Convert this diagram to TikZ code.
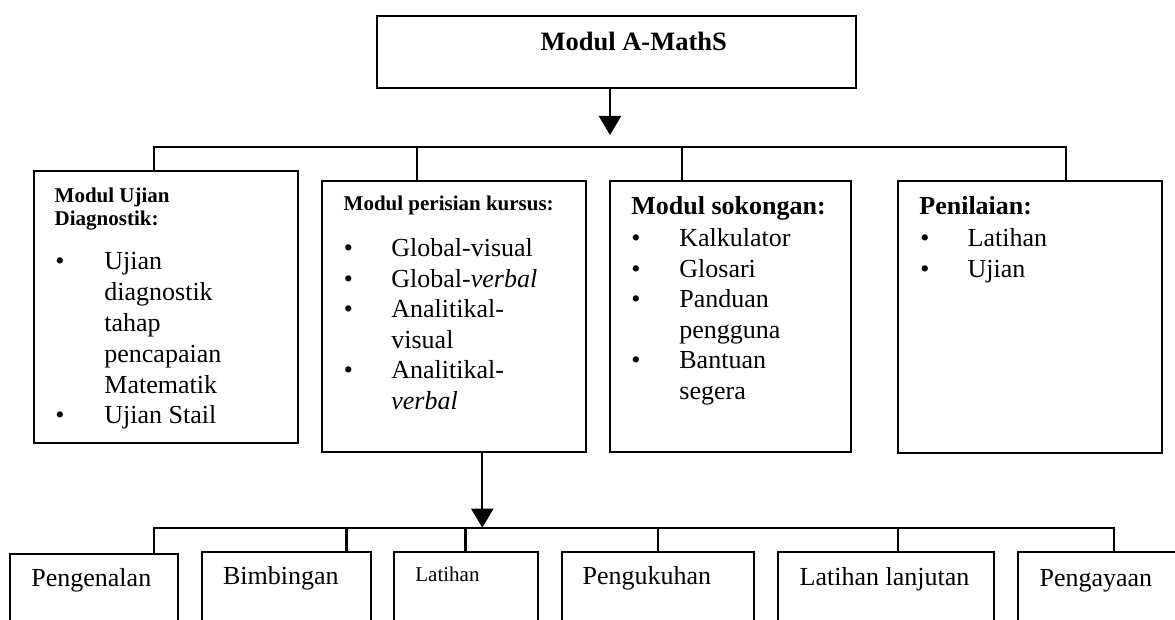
\documentclass[tikz,border=0pt]{standalone}
\usepackage{fontspec}
\setmainfont{Liberation Serif}
\usetikzlibrary{arrows.meta,fit}
\tikzset{
  box/.style={draw, line width=1.1pt, inner sep=0pt, rectangle},
  conn/.style={line width=1.1pt},
  arr/.style={line width=1.1pt, -{Triangle[width=11pt,length=9.5pt]}},
  txt/.style={anchor=base west, inner sep=0pt, font=\fontsize{13}{15}\selectfont},
  stxt/.style={anchor=base west, inner sep=0pt, font=\fontsize{10.5}{12}\selectfont},
  hd/.style={anchor=base west, inner sep=0pt, font=\fontsize{10.5}{12}\selectfont\bfseries},
  hdl/.style={anchor=base west, inner sep=0pt, font=\fontsize{13}{15}\selectfont\bfseries},
}
\begin{document}
\begin{tikzpicture}[x=0.5pt,y=-0.5pt]
\path[use as bounding box] (0,0) rectangle (1175,620);
\clip (0,0) rectangle (1175,620);

% top box
\node[box, fit={(377,16) (856,87.7)}] (top) {};
\node[anchor=base, inner sep=0pt, font=\fontsize{13.25}{15}\selectfont\bfseries] (title) at (633.7,50.7) {Modul A-MathS};

% second level boxes
\node[box, fit={(34,171.3) (297.7,442.7)}] (b1) {};
\node[box, fit={(322,180.7) (586,451.7)}] (b2) {};
\node[box, fit={(610,180.7) (850.7,451.7)}] (b3) {};
\node[box, fit={(898.3,180.7) (1162.3,452.7)}] (b4) {};

% box 1 text
\node[hd] (b1h1) at (54.3,202.7) {Modul Ujian};
\node[hd] (b1h2) at (54.3,226) {Diagnostik:};
\node[txt] (b1u1) at (55,270) {•};
\node[txt] (b1l1) at (104,270) {Ujian};
\node[txt] (b1l2) at (104,300.8) {diagnostik};
\node[txt] (b1l3) at (104,331.6) {tahap};
\node[txt] (b1l4) at (104,362.4) {pencapaian};
\node[txt] (b1l5) at (104,393.2) {Matematik};
\node[txt] (b1u2) at (55,424) {•};
\node[txt] (b1l6) at (104,424) {Ujian Stail};

% box 2 text
\node[hd] (b2h) at (343.3,211) {Modul perisian kursus:};
\node[txt] (b2u1) at (343.5,256.7) {•};
\node[txt] (b2l1) at (391,256.7) {Global-visual};
\node[txt] (b2u2) at (343.5,287.2) {•};
\node[txt] (b2l2) at (391,287.2) {Global-\textit{verbal}};
\node[txt] (b2u3) at (343.5,317.7) {•};
\node[txt] (b2l3) at (391,317.7) {Analitikal-};
\node[txt] (b2l4) at (391,348.2) {visual};
\node[txt] (b2u4) at (343.5,378.7) {•};
\node[txt] (b2l5) at (391,378.7) {Analitikal-};
\node[txt] (b2l6) at (391,409.2) {\textit{verbal}};

% box 3 text
\node[hdl] (b3h) at (631,215) {Modul sokongan:};
\node[txt] (b3u1) at (631,246.7) {•};
\node[txt] (b3l1) at (679,246.7) {Kalkulator};
\node[txt] (b3u2) at (631,277.2) {•};
\node[txt] (b3l2) at (679,277.2) {Glosari};
\node[txt] (b3u3) at (631,307.7) {•};
\node[txt] (b3l3) at (679,307.7) {Panduan};
\node[txt] (b3l4) at (679,338.2) {pengguna};
\node[txt] (b3u4) at (631,368.7) {•};
\node[txt] (b3l5) at (679,368.7) {Bantuan};
\node[txt] (b3l6) at (679,399.2) {segera};

% box 4 text
\node[hdl] (b4h) at (919,215) {Penilaian:};
\node[txt] (b4u1) at (920,246.7) {•};
\node[txt] (b4l1) at (967.3,246.7) {Latihan};
\node[txt] (b4u2) at (920,277.2) {•};
\node[txt] (b4l2) at (967.3,277.2) {Ujian};

% bottom boxes
\node[box, fit={(10,554) (178.3,660)}] (c1) {};
\node[box, fit={(201.7,552.3) (370.7,660)}] (c2) {};
\node[box, fit={(394,552) (538.3,660)}] (c3) {};
\node[box, fit={(562.3,552) (754.3,660)}] (c4) {};
\node[box, fit={(777.7,552) (994.3,660)}] (c5) {};
\node[box, fit={(1018.3,552) (1200,660)}] (c6) {};
\node[txt] (c1t) at (31,586.7) {Pengenalan};
\node[txt] (c2t) at (222.7,585) {Bimbingan};
\node[stxt] (c3t) at (415,581.7) {Latihan};
\node[txt] (c4t) at (582.3,585) {Pengukuhan};
\node[txt] (c5t) at (799.3,586) {Latihan lanjutan};
\node[txt] (c6t) at (1039.2,586.7) {Pengayaan};

% top connectors
\coordinate (a1) at (610,135);
\draw[arr] (top.south -| a1) -- (a1);
\coordinate (busL) at (154,147.3);
\coordinate (busR) at (1066,147.3);
\coordinate (t2) at (417.3,147.3);
\coordinate (t3) at (682,147.3);
\draw[conn] (b1.north -| busL) -- (busL) -- (busR) -- (b4.north -| busR);
\draw[conn] (t2) -- (b2.north -| t2);
\draw[conn] (t3) -- (b3.north -| t3);

% lower connectors
\coordinate (a2) at (482.3,527.7);
\draw[arr] (b2.south -| a2) -- (a2);
\coordinate (lbL) at (154,527.7);
\coordinate (lbR) at (1114,527.7);
\coordinate (d2) at (346.5,527.7);
\coordinate (d3) at (465.5,527.7);
\coordinate (d4) at (657.8,527.7);
\coordinate (d5) at (897.8,527.7);
\draw[conn] (c1.north -| lbL) -- (lbL) -- (lbR) -- (c6.north -| lbR);
\draw[conn] (d2) -- (c2.north -| d2);
\draw[conn] (d3) -- (c3.north -| d3);
\draw[conn] (d4) -- (c4.north -| d4);
\draw[conn] (d5) -- (c5.north -| d5);
\end{tikzpicture}
\end{document}
